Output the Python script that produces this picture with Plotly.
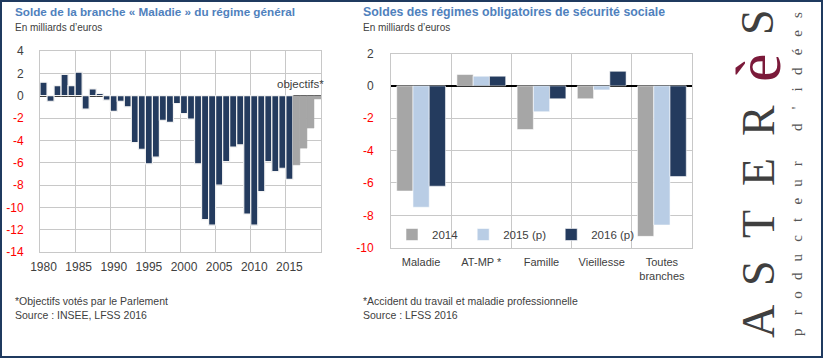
import plotly.graph_objects as go

W, H = 823, 358

# ---------------- data ----------------
realised_years = [1980, 1981, 1982, 1983, 1984, 1985, 1986, 1987, 1988, 1989,
                  1990, 1991, 1992, 1993, 1994, 1995, 1996, 1997, 1998, 1999,
                  2000, 2001, 2002, 2003, 2004, 2005, 2006, 2007, 2008, 2009,
                  2010, 2011, 2012, 2013, 2014, 2015]
realised_values = [1.2, -0.5, 0.9, 1.9, 0.9, 2.1, -1.2, 0.6, 0.2, -0.4,
                   -1.4, -0.5, -1.0, -4.2, -4.8, -6.1, -5.5, -2.2, -2.4, -0.7,
                   -1.6, -2.1, -6.1, -11.1, -11.6, -8.0, -5.9, -4.6, -4.4, -10.6,
                   -11.6, -8.6, -5.9, -6.8, -6.5, -7.5]
objective_years = [2016, 2017, 2018, 2019]
objective_values = [-6.2, -4.7, -2.9, -0.3]
left_year_labels = [1980, 1985, 1990, 1995, 2000, 2005, 2010, 2015]

branches = ["Maladie", "AT-MP *", "Famille", "Vieillesse", "Toutes<br>branches"]
solde_2014 = [-6.5, 0.7, -2.7, -0.8, -9.3]
solde_2015 = [-7.5, 0.6, -1.6, -0.25, -8.6]
solde_2016 = [-6.2, 0.6, -0.8, 0.9, -5.6]
series_names = ["2014", "2015 (p)", "2016 (p)"]

left_yticks = [4, 2, 0, -2, -4, -6, -8, -10, -12, -14]
right_yticks = [2, 0, -2, -4, -6, -8, -10]

# ---------------- style ----------------
NAVY = "#243b5e"
GRAY = "#a6a6a6"
LIGHT = "#b9cde5"
TXT = "#404040"
BLUE = "#4f81bd"
GRID = "#c8c8c8"
FONT = "Liberation Sans, Arial, sans-serif"
SERIF = "Liberation Serif, DejaVu Serif, serif"


def px_x(x):
    return x / W


def px_y(y):
    return 1 - y / H


def tick_text(vals):
    out = []
    for v in vals:
        if v < 0:
            out.append("<span style='color:#ff0000'>%d</span>" % v)
        else:
            out.append("%d" % v)
    return out


fig = go.Figure()

# left chart
fig.add_trace(go.Bar(x=realised_years, y=realised_values, xaxis="x", yaxis="y",
                     marker=dict(color=NAVY, line=dict(color="#f2f2f2", width=1.2)),
                     width=1, offsetgroup="L", showlegend=False))
fig.add_trace(go.Bar(x=objective_years, y=objective_values, xaxis="x", yaxis="y",
                     marker=dict(color=GRAY, line=dict(color=GRAY, width=0.5)),
                     width=1, offsetgroup="L", showlegend=False))

# right chart
for name, vals, col, og in zip(series_names, [solde_2014, solde_2015, solde_2016],
                               [GRAY, LIGHT, NAVY], ["a", "b", "c"]):
    fig.add_trace(go.Bar(x=branches, y=vals, name=name, xaxis="x2", yaxis="y2",
                         marker=dict(color=col, line=dict(color="rgba(255,255,255,0.7)", width=0.8)),
                         offsetgroup=og))

axis_common = dict(showline=True, mirror=True, linecolor=GRID, linewidth=1,
                   gridcolor=GRID, gridwidth=1, fixedrange=True)

fig.update_layout(
    width=W, height=H,
    margin=dict(l=0, r=0, t=0, b=0, autoexpand=False),
    paper_bgcolor="white", plot_bgcolor="white",
    font=dict(family=FONT, color=TXT, size=12),
    barmode="group", bargap=0.19, bargroupgap=0,
    xaxis=dict(domain=[px_x(40), px_x(321)], range=[1979.5, 2019.5],
               tickmode="array", tickvals=left_year_labels,
               ticktext=[str(v) for v in left_year_labels],
               showgrid=False, ticks="", ticklabelstandoff=4,
               tickfont=dict(size=12, color=TXT),
               minor=dict(tick0=1979.5, dtick=5, showgrid=True, gridcolor=GRID, gridwidth=1),
               zeroline=False, anchor="y", **axis_common),
    yaxis=dict(domain=[px_y(252), px_y(51)], range=[-14, 4],
               tickmode="array", tickvals=left_yticks, ticktext=tick_text(left_yticks),
               showgrid=True, zeroline=True, zerolinecolor="#000000", zerolinewidth=1.5,
               tickfont=dict(size=12, color=TXT), ticklabelstandoff=13, ticks="",
               anchor="x", **axis_common),
    xaxis2=dict(domain=[px_x(391), px_x(692)], type="category",
                tickson="boundaries", showgrid=True, ticks="", ticklabelstandoff=4,
                tickfont=dict(size=11, color=TXT), anchor="y2", **axis_common),
    yaxis2=dict(domain=[px_y(247.7), px_y(53.5)], range=[-10, 2],
                tickmode="array", tickvals=right_yticks, ticktext=tick_text(right_yticks),
                showgrid=True, zeroline=True, zerolinecolor="#000000", zerolinewidth=1.5,
                tickfont=dict(size=12, color=TXT), ticklabelstandoff=14, ticks="",
                anchor="x2", **axis_common),
    legend=dict(orientation="h", x=px_x(392), y=px_y(220), xanchor="left", yanchor="top",
                bgcolor="rgba(0,0,0,0)", font=dict(size=11.5, color=TXT),
                itemwidth=30, tracegroupgap=0, traceorder="normal"),
)

ann = []
# titles
ann.append(dict(text="<b>Solde de la branche « Maladie » du régime général</b>",
                x=px_x(13), y=px_y(12), xanchor="left", yanchor="middle",
                font=dict(size=11.7, color=BLUE)))
ann.append(dict(text="En milliards d’euros", x=px_x(13), y=px_y(27),
                xanchor="left", yanchor="middle", font=dict(size=10, color=TXT)))
ann.append(dict(text="<b>Soldes des régimes obligatoires de sécurité sociale</b>",
                x=px_x(361), y=px_y(12), xanchor="left", yanchor="middle",
                font=dict(size=12.3, color=BLUE)))
ann.append(dict(text="En milliards d’euros", x=px_x(361), y=px_y(27),
                xanchor="left", yanchor="middle", font=dict(size=10, color=TXT)))
ann.append(dict(text="objectifs*", x=px_x(326), y=px_y(84), xanchor="right",
                yanchor="middle", font=dict(size=11.5, color=TXT)))
# footnotes
ann.append(dict(text="*Objectifs votés par le Parlement<br>Source : INSEE, LFSS 2016",
                x=px_x(13), y=px_y(293), xanchor="left", yanchor="top", align="left",
                font=dict(size=10.5, color=TXT)))
ann.append(dict(text="*Accident du travail et maladie professionnelle<br>Source : LFSS 2016",
                x=px_x(361), y=px_y(293), xanchor="left", yanchor="top", align="left",
                font=dict(size=10.5, color=TXT)))

# logo
logo_letters = ["A", "S", "T", "E", "R", "è", "S"]
logo_centers = [322, 273, 224, 172, 121, 68, 22]
for ch, cy in zip(logo_letters, logo_centers):
    big = ch == "è"
    ann.append(dict(text=ch, x=px_x(758), y=px_y(cy), xanchor="center", yanchor="middle",
                    textangle=-90,
                    font=dict(family=SERIF, size=64 if big else 46,
                              color="#7b1a3a" if big else "#3f3f3f")))
small = "producteur d'idées"
for i, ch in enumerate(small):
    if ch == " ":
        continue
    cy = 332 - i * (317 / 17)
    ann.append(dict(text=ch, x=px_x(797), y=px_y(cy), xanchor="center", yanchor="middle",
                    textangle=-90, font=dict(family=SERIF, size=15, color="#555555")))

for a in ann:
    a.setdefault("xref", "paper")
    a.setdefault("yref", "paper")
    a.setdefault("showarrow", False)
fig.update_layout(annotations=ann)

fig.update_layout(shapes=[
    # white legend backdrop hiding the grid behind the legend (above grid, below bars)
    dict(type="rect", xref="paper", yref="paper", layer="between",
         x0=px_x(393), x1=px_x(613), y0=px_y(247), y1=px_y(215.5),
         line=dict(width=0), fillcolor="white"),
    # outer frame
    dict(type="rect", xref="paper", yref="paper",
         x0=px_x(1), x1=px_x(W - 1), y0=px_y(H - 1), y1=px_y(1),
         line=dict(color="#1f3a5f", width=2)),
])

fig.write_html("out.html", config={"displayModeBar": False},
               post_script="document.body.style.margin='0';document.body.style.overflow='hidden';")
